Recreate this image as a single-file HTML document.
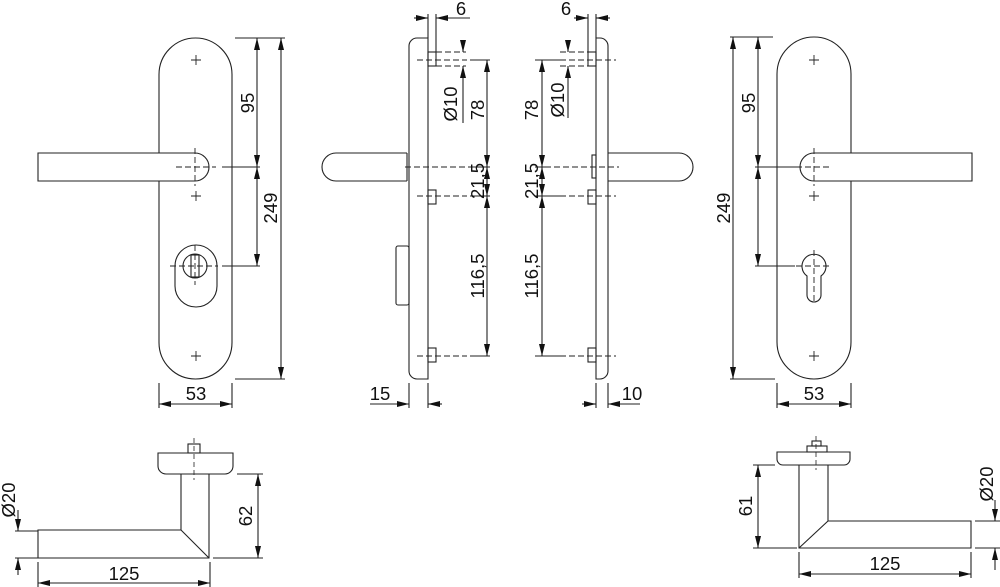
<!DOCTYPE html>
<html><head><meta charset="utf-8"><style>
html,body{margin:0;padding:0;background:#fff;}
svg{display:block;}
text{font-family:"Liberation Sans",sans-serif;font-size:18.5px;fill:#111;}
</style></head><body>
<svg width="1000" height="587" viewBox="0 0 1000 587" xmlns="http://www.w3.org/2000/svg">
<defs>
<marker id="a" viewBox="0 0 12 6" refX="12" refY="3" markerWidth="12" markerHeight="6" markerUnits="userSpaceOnUse" orient="auto-start-reverse">
<path d="M0,0 L12,3 L0,6 Z" fill="#111"/>
</marker>
</defs>
<g fill="none" stroke="#222" stroke-width="1.1">
<!-- LEFT FRONT VIEW -->
<rect x="159" y="38" width="73" height="341" rx="36.5"/>
<path d="M38,153 H195 A14,14 0 0 1 195,181 H38 Z" fill="#fff"/>
<path d="M175,266 A21,21 0 0 1 217,266 V286 A21,21 0 0 1 175,286 Z"/>
<circle cx="195" cy="266" r="12"/>
<rect x="191" y="255" width="8" height="22"/>
<g stroke-width="0.9">
<path d="M191,60h10M196,55v10M191,196h10M196,191v10M191,356h10M196,351v10"/>
</g>
<g stroke-dasharray="6,3" stroke-width="0.9">
<path d="M176,167h40M195,148v38M170,266h48M195,245v40"/>
</g>
<path d="M235,38h50M235,379h50M222,167h38M222,266h38M159,383v25M232,383v25"/>
<path d="M257,38V167" marker-start="url(#a)" marker-end="url(#a)"/>
<path d="M257,167V266" marker-start="url(#a)" marker-end="url(#a)"/>
<path d="M281,38V379" marker-start="url(#a)" marker-end="url(#a)"/>
<path d="M159,404H232" marker-start="url(#a)" marker-end="url(#a)"/>

<!-- LEFT SIDE VIEW -->
<path d="M428,38 V379 H417 A8,8 0 0 1 409,371 V46 A8,8 0 0 1 417,38 Z"/>
<path d="M407,153 H336 A14,14 0 0 0 336,181 H407"/>
<path d="M407,153V181"/>
<rect x="396" y="246" width="13" height="59" rx="2"/>
<rect x="428" y="52" width="8" height="14"/>
<rect x="428" y="190" width="8" height="14"/>
<rect x="428" y="348" width="8" height="14"/>
<g stroke-dasharray="6,3" stroke-width="0.9">
<path d="M417,60h50M405,167h80M417,196h50M417,356h50M436,52h30M436,66h30"/>
</g>
<path d="M470,60h20M470,167h20M470,196h20M470,356h20"/>
<path d="M428,14V38M436,14V52"/>
<path d="M414,18H428" marker-end="url(#a)"/><path d="M470,18H436" marker-end="url(#a)"/>
<path d="M463,40V52" marker-end="url(#a)"/><path d="M463,123V66" marker-end="url(#a)"/>
<path d="M487,60V167" marker-start="url(#a)" marker-end="url(#a)"/>
<path d="M487,167V196" marker-start="url(#a)" marker-end="url(#a)"/>
<path d="M487,196V356" marker-start="url(#a)" marker-end="url(#a)"/>
<path d="M409,383v25M428,383v25"/>
<path d="M370,404H409" marker-end="url(#a)"/><path d="M442,404H428" marker-end="url(#a)"/>

<!-- RIGHT SIDE VIEW -->
<path d="M596,38 V379 H600 A8,8 0 0 0 608,371 V46 A8,8 0 0 0 600,38 Z"/>
<path d="M608,153 H679 A14,14 0 0 1 679,181 H608"/>
<rect x="592" y="155" width="4" height="23"/>
<rect x="588" y="52" width="8" height="14"/>
<rect x="588" y="190" width="8" height="14"/>
<rect x="588" y="348" width="8" height="14"/>
<g stroke-dasharray="6,3" stroke-width="0.9">
<path d="M560,60h56M545,167h74M560,196h56M560,356h56M560,52h28M560,66h28"/>
</g>
<path d="M535,60h25M535,167h10M535,196h25M535,356h25"/>
<path d="M588,14V52M596,14V38"/>
<path d="M574,18H588" marker-end="url(#a)"/><path d="M610,18H596" marker-end="url(#a)"/>
<path d="M568,40V52" marker-end="url(#a)"/><path d="M568,118V66" marker-end="url(#a)"/>
<path d="M542,60V167" marker-start="url(#a)" marker-end="url(#a)"/>
<path d="M542,167V196" marker-start="url(#a)" marker-end="url(#a)"/>
<path d="M542,196V356" marker-start="url(#a)" marker-end="url(#a)"/>
<path d="M596,383v25M608,383v25"/>
<path d="M582,404H596" marker-end="url(#a)"/><path d="M640,404H608" marker-end="url(#a)"/>

<!-- RIGHT FRONT VIEW -->
<rect x="777" y="37" width="74" height="342" rx="37"/>
<path d="M972,153 H814 A14,14 0 0 0 814,181 H972 Z" fill="#fff"/>
<path d="M807,276 A12,12 0 1 1 821,276 V295 A7,7 0 0 1 807,295 Z"/>
<g stroke-width="0.9">
<path d="M809,60h10M814,55v10M809,196h10M814,191v10M809,356h10M814,351v10"/>
</g>
<g stroke-dasharray="6,3" stroke-width="0.9">
<path d="M796,167h36M814,148v38M796,266h36M814,250v52"/>
</g>
<path d="M730,37h43M730,379h45M755,167h45M755,266h40M777,383v25M851,383v25"/>
<path d="M733,37V379" marker-start="url(#a)" marker-end="url(#a)"/>
<path d="M758,37V167" marker-start="url(#a)" marker-end="url(#a)"/>
<path d="M758,167V266" marker-start="url(#a)" marker-end="url(#a)"/>
<path d="M777,404H851" marker-start="url(#a)" marker-end="url(#a)"/>

<!-- BOTTOM LEFT -->
<path d="M158,453H233V466A8,8 0 0 1 225,474H166A8,8 0 0 1 158,466Z"/>
<rect x="188" y="444" width="12" height="9"/>
<path d="M181,474V530H38V558H209V474"/>
<path d="M181,530L209,558"/>
<path d="M194,438V480" stroke-dasharray="5,3" stroke-width="0.8"/>
<path d="M237,474h26M213,558h50M15,531h23M15,558h23M38,562v25M210,562v25"/>
<path d="M258,474V558" marker-start="url(#a)" marker-end="url(#a)"/>
<path d="M18,510V531" marker-end="url(#a)"/><path d="M18,575V558" marker-end="url(#a)"/>
<path d="M38,583H210" marker-start="url(#a)" marker-end="url(#a)"/>

<!-- BOTTOM RIGHT -->
<path d="M777,452H850V459A6,6 0 0 1 844,465H783A6,6 0 0 1 777,459Z"/>
<rect x="807" y="446" width="20" height="6"/>
<rect x="812" y="441" width="9" height="5"/>
<path d="M799,465V548H971V521H828V465"/>
<path d="M828,521L799,548"/>
<path d="M816,436V470" stroke-dasharray="5,3" stroke-width="0.8"/>
<path d="M753,465h22M753,548h44M975,521h25M975,548h25M799,552v26M971,552v26"/>
<path d="M758,465V548" marker-start="url(#a)" marker-end="url(#a)"/>
<path d="M995,500V521" marker-end="url(#a)"/><path d="M995,570V548" marker-end="url(#a)"/>
<path d="M799,574H971" marker-start="url(#a)" marker-end="url(#a)"/>
</g>

<!-- LABELS -->
<text x="196" y="400" text-anchor="middle">53</text>
<text x="814" y="400" text-anchor="middle">53</text>
<text x="380" y="400" text-anchor="middle">15</text>
<text x="632" y="400" text-anchor="middle">10</text>
<text x="461" y="15" text-anchor="middle">6</text>
<text x="566" y="15" text-anchor="middle">6</text>
<text x="124" y="580" text-anchor="middle">125</text>
<text x="885" y="570" text-anchor="middle">125</text>
<g>
<text transform="translate(254,103) rotate(-90)" text-anchor="middle">95</text>
<text transform="translate(277,208) rotate(-90)" text-anchor="middle">249</text>
<text transform="translate(755,103) rotate(-90)" text-anchor="middle">95</text>
<text transform="translate(730,208) rotate(-90)" text-anchor="middle">249</text>
<text transform="translate(457,104) rotate(-90)" text-anchor="middle">Ø10</text>
<text transform="translate(484,110) rotate(-90)" text-anchor="middle">78</text>
<text transform="translate(484,181) rotate(-90)" text-anchor="middle">21,5</text>
<text transform="translate(484,276) rotate(-90)" text-anchor="middle">116,5</text>
<text transform="translate(564,100) rotate(-90)" text-anchor="middle">Ø10</text>
<text transform="translate(538,110) rotate(-90)" text-anchor="middle">78</text>
<text transform="translate(538,181) rotate(-90)" text-anchor="middle">21,5</text>
<text transform="translate(538,276) rotate(-90)" text-anchor="middle">116,5</text>
<text transform="translate(252,516) rotate(-90)" text-anchor="middle">62</text>
<text transform="translate(752,506) rotate(-90)" text-anchor="middle">61</text>
<text transform="translate(15,500) rotate(-90)" text-anchor="middle">Ø20</text>
<text transform="translate(993,484) rotate(-90)" text-anchor="middle">Ø20</text>
</g>
</svg>
</body></html>
